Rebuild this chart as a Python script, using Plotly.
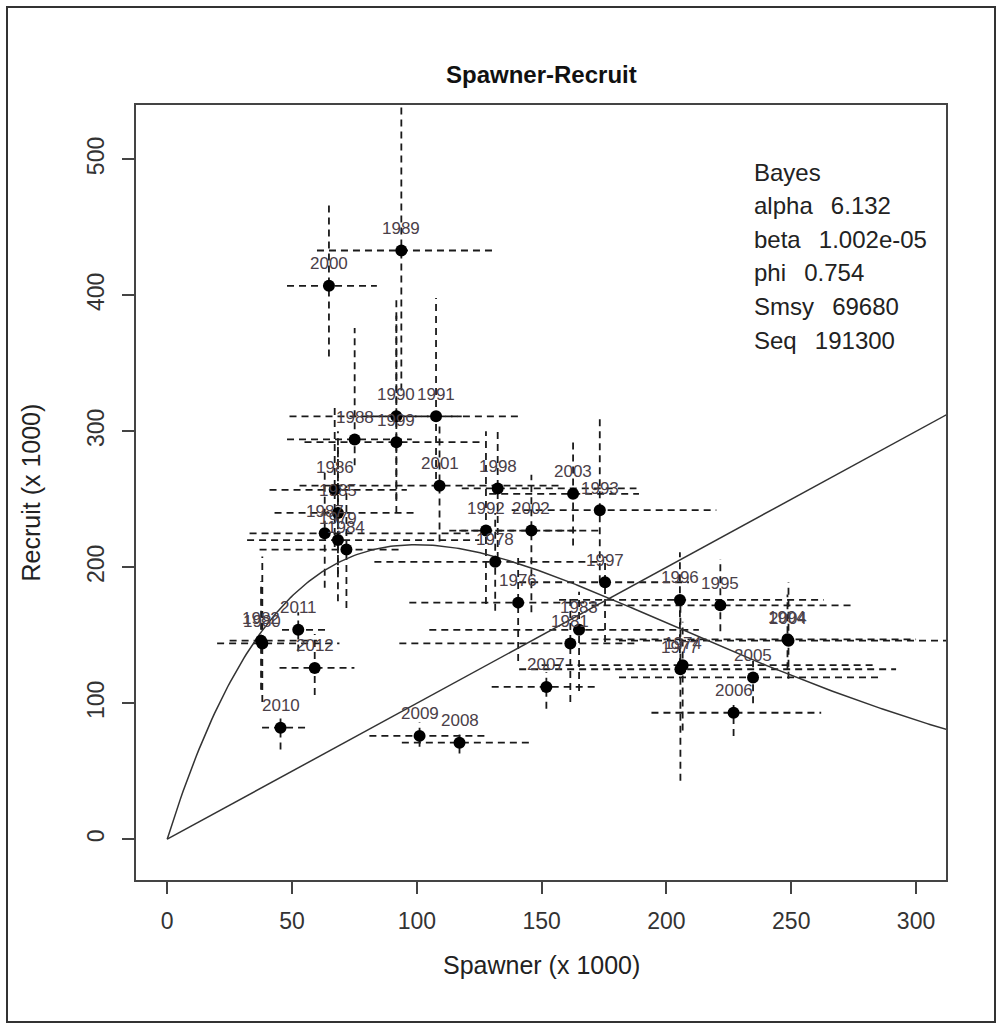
import numpy as np
import plotly.graph_objects as go

# ---- data (x 1000) ----
years = ["1989", "2000", "1990", "1991", "1999", "1988",
         "1986", "1985", "1987", "1979", "1984",
         "2001", "1998", "2003", "1993", "1992", "2002", "1978", "1997", "1976",
         "2011", "1980", "1982", "2012", "2010", "2009", "2008", "2007",
         "1983", "1981", "1996", "1995", "2004", "1994", "1977", "1974",
         "2005", "2006"]
spawner = [93.8, 64.8, 91.8, 107.7, 91.8, 75.1,
           67.1, 68.4, 63.1, 68.4, 71.8,
           109.1, 132.4, 162.6, 173.3, 127.7, 145.9, 131.4, 175.4, 140.6,
           52.5, 38.1, 37.6, 59.1, 45.4, 101.1, 117.1, 151.9,
           165.0, 161.5, 205.4, 221.6, 248.9, 248.5, 205.6, 206.5,
           234.7, 226.9]
recruit = [433, 407, 311, 311, 292, 294,
           257, 240, 225, 220, 213,
           260, 258, 254, 242, 227, 227, 204, 189, 174,
           154, 144, 146, 126, 82, 76, 71, 112,
           154, 144, 176, 172, 146, 147, 125, 128,
           119, 93]
s_lo = [60, 48, 49, 80, 55, 48,
        41, 43, 33, 32, 37,
        53, 118, 129, 138, 113, 117, 83, 141, 97,
        46, 20, 25, 45, 38, 81, 94, 130,
        105, 93, 157, 170, 181, 170, 141, 150,
        181, 194]
s_hi = [132, 84, 118, 142, 127, 98,
        96, 100, 121, 125, 93,
        157, 188, 189, 220, 165, 173, 173, 209, 173,
        65, 69, 60, 75, 56, 128, 145, 173,
        213, 189, 263, 275, 320, 300, 292, 283,
        285, 262]
r_lo = [330, 355, 250, 265, 240, 275,
        215, 195, 185, 175, 170,
        219, 206, 216, 189, 173, 167, 168, 145, 131,
        138, 101, 110, 106, 66, 68, 63, 96,
        109, 101, 128, 153, 118, 125, 43, 80,
        100, 76]
r_hi = [545, 468, 400, 398, 385, 376,
        320, 290, 270, 300, 260,
        307, 301, 292, 310, 300, 268, 240, 208, 208,
        167, 208, 190, 151, 92, 86, 80, 123,
        182, 178, 211, 206, 189, 180, 175, 160,
        131, 100]

curve_alpha = 5.9
beta = 1.002e-05
info_lines = ["Bayes", "alpha  6.132", "beta  1.002e-05", "phi  0.754",
              "Smsy  69680", "Seq  191300"]

x_ticks = [0, 50, 100, 150, 200, 250, 300]
y_ticks = [0, 100, 200, 300, 400, 500]

FONT = "Liberation Sans, Arial"
fig = go.Figure()

# horizontal / vertical interval segments
hx, hy, vx, vy = [], [], [], []
for s, r, a, b, c, d in zip(spawner, recruit, s_lo, s_hi, r_lo, r_hi):
    hx += [a, b, None]
    hy += [r, r, None]
    vx += [s, s, None]
    vy += [c, d, None]
dash = "7px,5px"
fig.add_trace(go.Scatter(x=hx, y=hy, mode="lines", line=dict(color="#1a1a1a", width=1.8, dash=dash),
                         hoverinfo="skip", showlegend=False))
fig.add_trace(go.Scatter(x=vx, y=vy, mode="lines", line=dict(color="#1a1a1a", width=1.8, dash=dash),
                         hoverinfo="skip", showlegend=False))

# Ricker curve
S = np.linspace(0, 315, 300)
R = curve_alpha * S * np.exp(-beta * S * 1000)
fig.add_trace(go.Scatter(x=S, y=R, mode="lines", line=dict(color="#333", width=1.5),
                         showlegend=False))
# replacement line
fig.add_trace(go.Scatter(x=[0, 315], y=[0, 315], mode="lines", line=dict(color="#333", width=1.5),
                         showlegend=False))

# points
fig.add_trace(go.Scatter(x=spawner, y=recruit, mode="markers",
                         marker=dict(color="black", size=12), showlegend=False))

annotations = []
for yr, s, r in zip(years, spawner, recruit):
    annotations.append(dict(x=s, y=r, xref="x", yref="y", text=yr, showarrow=False,
                            yshift=22, font=dict(size=17, color="#4a4048", family=FONT)))

# info text
for i, t in enumerate(info_lines):
    annotations.append(dict(x=(752 - 136) / 810, y=(880 - (172 + 33.6 * i)) / 775,
                            xref="paper", yref="paper",
                            text=t.replace("  ", "&nbsp;&nbsp;&#8201;"), showarrow=False,
                            xanchor="left", yanchor="middle",
                            font=dict(size=24, color="#222", family=FONT)))

# title and axis titles
annotations.append(dict(x=0.5, y=(880 - 75) / 775, xref="paper", yref="paper",
                        text="<b>Spawner-Recruit</b>", showarrow=False,
                        xanchor="center", yanchor="middle",
                        font=dict(size=24, color="#111", family=FONT)))
annotations.append(dict(x=0.5, y=(880 - 965) / 775, xref="paper", yref="paper",
                        text="Spawner (x 1000)", showarrow=False,
                        xanchor="center", yanchor="middle",
                        font=dict(size=25, color="#222", family=FONT)))
annotations.append(dict(x=(30 - 136) / 810, y=0.5, xref="paper", yref="paper",
                        text="Recruit (x 1000)", showarrow=False, textangle=-90,
                        xanchor="center", yanchor="middle",
                        font=dict(size=25, color="#222", family=FONT)))

axis_common = dict(showgrid=False, zeroline=False, showline=True, mirror=True,
                   linecolor="#444", linewidth=2, ticks="outside", ticklen=12,
                   tickwidth=1.5, tickcolor="#444",
                   tickfont=dict(size=23, color="#333", family=FONT))

fig.update_layout(
    width=1003, height=1031,
    margin=dict(l=136, r=57, t=105, b=151),
    paper_bgcolor="white", plot_bgcolor="white",
    xaxis=dict(range=[-12.5, 312], tickvals=x_ticks, ticklabelstandoff=7, **axis_common),
    yaxis=dict(range=[-30, 540], tickvals=y_ticks, tickangle=-90, ticklabelstandoff=9,
               **axis_common),
    annotations=annotations,
    shapes=[dict(type="rect", xref="paper", yref="paper",
                 x0=(7 - 136) / 810, x1=(995 - 136) / 810,
                 y0=(880 - 1022) / 775, y1=(880 - 7) / 775,
                 line=dict(color="#333", width=2), layer="below")],
)

fig.write_html("out.html")
